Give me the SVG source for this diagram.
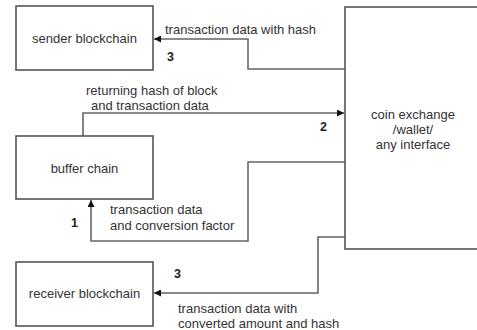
<svg xmlns="http://www.w3.org/2000/svg" width="477" height="330" viewBox="0 0 477 330">
<defs>
<style>
.box{fill:#fff;stroke:#555;stroke-width:1.6}
.ln{fill:none;stroke:#666;stroke-width:1.6}
text{font-family:"Liberation Sans",Arial,sans-serif;font-size:13px;fill:#333}
.c{text-anchor:middle}
.n{font-weight:bold;font-size:12.5px;fill:#222}
</style>
<marker id="ah" viewBox="0 0 10 10" refX="10" refY="5" markerWidth="7" markerHeight="7" markerUnits="userSpaceOnUse" orient="auto">
<path d="M0,0 L10,5 L0,10 z" fill="#111"/>
</marker>
</defs>
<rect width="477" height="330" fill="#fff"/>
<g id="connectors">
<path class="ln" d="M345,69 H248 V39 H154" marker-end="url(#ah)"/>
<path class="ln" d="M83,136 V113 H344" marker-end="url(#ah)"/>
<path class="ln" d="M345,162 H248 V241 H91 V200" marker-end="url(#ah)"/>
<path class="ln" d="M345,237 H318 V293 H154" marker-end="url(#ah)"/>
</g>
<g id="sender">
<rect class="box" x="16" y="6" width="137" height="64"/>
<text class="c" x="84.5" y="43">sender blockchain</text>
</g>
<g id="buffer">
<rect class="box" x="16" y="136" width="137" height="63"/>
<text class="c" x="84.5" y="173">buffer chain</text>
</g>
<g id="receiver">
<rect class="box" x="16" y="262" width="137" height="64"/>
<text class="c" x="84.5" y="298">receiver blockchain</text>
</g>
<g id="exchange">
<rect class="box" x="345" y="7" width="136" height="242"/>
<text class="c" x="413" y="119">coin exchange</text>
<text class="c" x="413" y="134">/wallet/</text>
<text class="c" x="413" y="149">any interface</text>
</g>
<g id="labels">
<text x="165" y="34">transaction data with hash</text>
<text class="n" x="167" y="61">3</text>
<text x="86" y="95">returning hash of block</text>
<text x="91" y="110">and transaction data</text>
<text class="n" x="320" y="131">2</text>
<text x="110" y="214">transaction data</text>
<text x="110" y="230">and conversion factor</text>
<text class="n" x="71" y="227">1</text>
<text class="n" x="174" y="278">3</text>
<text x="178" y="313">transaction data with</text>
<text x="178" y="328">converted amount and hash</text>
</g>
</svg>
